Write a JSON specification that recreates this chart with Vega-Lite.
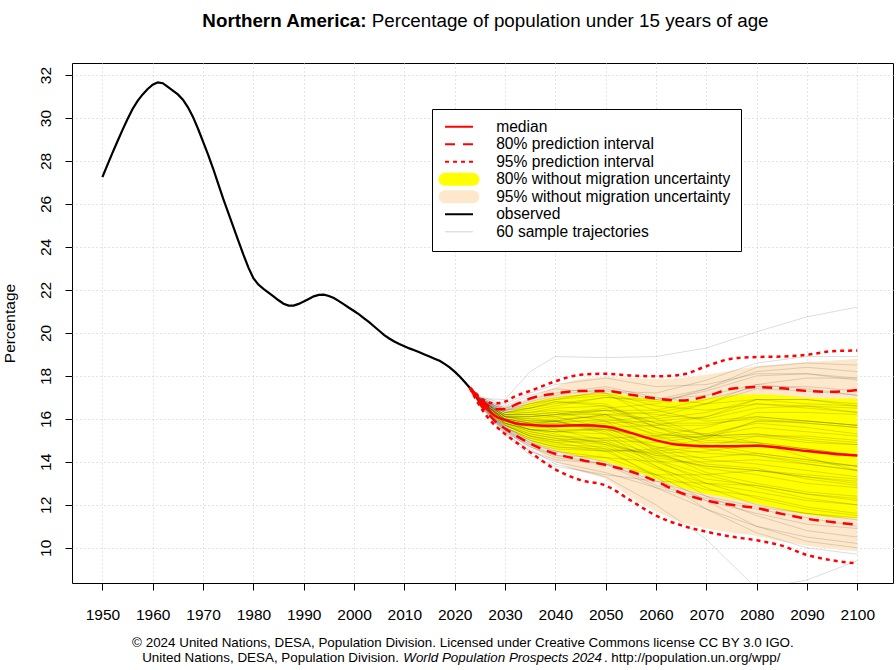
{
  "$schema": "https://vega.github.io/schema/vega-lite/v6.json",
  "width": 821,
  "height": 520,
  "autosize": {"type": "none"},
  "padding": {"left": 72, "top": 63, "right": 3, "bottom": 87},
  "background": "white",
  "config": {
    "view": {"stroke": "black", "strokeWidth": 1},
    "font": "Liberation Sans",
    "axis": {
      "labelFont": "Liberation Sans",
      "labelFontSize": 15.5,
      "labelColor": "black",
      "tickColor": "black",
      "tickSize": 7,
      "tickWidth": 1,
      "domain": false,
      "grid": true,
      "gridColor": "#c8c8c8",
      "gridDash": [1, 3],
      "gridWidth": 1,
      "labelOverlap": false,
      "labelFlush": false,
      "titleFont": "Liberation Sans",
      "titleFontSize": 15.5,
      "titleFontWeight": "normal",
      "titleColor": "black"
    },
    "axisX": {"labelBaseline": "alphabetic", "labelPadding": 29},
    "axisY": {
      "labelAngle": 270,
      "labelAlign": "center",
      "labelBaseline": "alphabetic",
      "labelPadding": 15,
      "titleAngle": 270,
      "titleX": -58,
      "titleY": 260,
      "titleAlign": "center",
      "titleBaseline": "alphabetic"
    }
  },
  "datasets": {
    "obs": [
      {"year": 1950, "pct": 27.25}, {"year": 1951, "pct": 27.82}, {"year": 1952, "pct": 28.38}, {"year": 1953, "pct": 28.92},
      {"year": 1954, "pct": 29.45}, {"year": 1955, "pct": 29.95}, {"year": 1956, "pct": 30.42}, {"year": 1957, "pct": 30.8},
      {"year": 1958, "pct": 31.1}, {"year": 1959, "pct": 31.35}, {"year": 1960, "pct": 31.55}, {"year": 1961, "pct": 31.66},
      {"year": 1962, "pct": 31.62}, {"year": 1963, "pct": 31.45}, {"year": 1964, "pct": 31.28}, {"year": 1965, "pct": 31.1},
      {"year": 1966, "pct": 30.85}, {"year": 1967, "pct": 30.5}, {"year": 1968, "pct": 30.05}, {"year": 1969, "pct": 29.5},
      {"year": 1970, "pct": 28.9}, {"year": 1971, "pct": 28.3}, {"year": 1972, "pct": 27.65}, {"year": 1973, "pct": 26.95},
      {"year": 1974, "pct": 26.25}, {"year": 1975, "pct": 25.6}, {"year": 1976, "pct": 24.95}, {"year": 1977, "pct": 24.3},
      {"year": 1978, "pct": 23.65}, {"year": 1979, "pct": 23.05}, {"year": 1980, "pct": 22.55}, {"year": 1981, "pct": 22.25},
      {"year": 1982, "pct": 22.05}, {"year": 1983, "pct": 21.88}, {"year": 1984, "pct": 21.7}, {"year": 1985, "pct": 21.52},
      {"year": 1986, "pct": 21.36}, {"year": 1987, "pct": 21.27}, {"year": 1988, "pct": 21.27}, {"year": 1989, "pct": 21.35},
      {"year": 1990, "pct": 21.46}, {"year": 1991, "pct": 21.58}, {"year": 1992, "pct": 21.7}, {"year": 1993, "pct": 21.77},
      {"year": 1994, "pct": 21.78}, {"year": 1995, "pct": 21.72}, {"year": 1996, "pct": 21.62}, {"year": 1997, "pct": 21.48},
      {"year": 1998, "pct": 21.33}, {"year": 1999, "pct": 21.17}, {"year": 2000, "pct": 21.02}, {"year": 2001, "pct": 20.86},
      {"year": 2002, "pct": 20.68}, {"year": 2003, "pct": 20.5}, {"year": 2004, "pct": 20.3}, {"year": 2005, "pct": 20.1},
      {"year": 2006, "pct": 19.9}, {"year": 2007, "pct": 19.74}, {"year": 2008, "pct": 19.6}, {"year": 2009, "pct": 19.48},
      {"year": 2010, "pct": 19.38}, {"year": 2011, "pct": 19.28}, {"year": 2012, "pct": 19.19}, {"year": 2013, "pct": 19.1},
      {"year": 2014, "pct": 19.0}, {"year": 2015, "pct": 18.9}, {"year": 2016, "pct": 18.8}, {"year": 2017, "pct": 18.7},
      {"year": 2018, "pct": 18.56}, {"year": 2019, "pct": 18.4}, {"year": 2020, "pct": 18.2}, {"year": 2021, "pct": 17.97},
      {"year": 2022, "pct": 17.72}, {"year": 2023, "pct": 17.45}
    ],
    "proj": [
      {"year": 2023, "median": 17.45, "hi80": 17.45, "lo80": 17.45, "hi95": 17.45, "lo95": 17.45, "nhi80": 17.45, "nlo80": 17.45, "nhi95": 17.45, "nlo95": 17.45},
      {"year": 2024, "median": 17.15, "hi80": 17.2, "lo80": 17.05, "hi95": 17.25, "lo95": 17.0, "nhi80": 17.15, "nlo80": 17.1, "nhi95": 17.2, "nlo95": 17.05},
      {"year": 2025, "median": 16.85, "hi80": 16.95, "lo80": 16.7, "hi95": 17.0, "lo95": 16.6, "nhi80": 16.9, "nlo80": 16.75, "nhi95": 17.0, "nlo95": 16.65},
      {"year": 2026, "median": 16.6, "hi80": 16.75, "lo80": 16.4, "hi95": 16.85, "lo95": 16.25, "nhi80": 16.7, "nlo80": 16.5, "nhi95": 16.85, "nlo95": 16.35},
      {"year": 2027, "median": 16.35, "hi80": 16.55, "lo80": 16.15, "hi95": 16.75, "lo95": 15.95, "nhi80": 16.5, "nlo80": 16.25, "nhi95": 16.7, "nlo95": 16.1},
      {"year": 2028, "median": 16.15, "hi80": 16.45, "lo80": 15.9, "hi95": 16.72, "lo95": 15.7, "nhi80": 16.4, "nlo80": 16.05, "nhi95": 16.65, "nlo95": 15.85},
      {"year": 2030, "median": 15.95, "hi80": 16.45, "lo80": 15.55, "hi95": 16.8, "lo95": 15.3, "nhi80": 16.3, "nlo80": 15.7, "nhi95": 16.6, "nlo95": 15.45},
      {"year": 2032, "median": 15.8, "hi80": 16.65, "lo80": 15.25, "hi95": 17.05, "lo95": 14.95, "nhi80": 16.45, "nlo80": 15.4, "nhi95": 16.75, "nlo95": 15.15},
      {"year": 2035, "median": 15.72, "hi80": 16.95, "lo80": 14.85, "hi95": 17.3, "lo95": 14.45, "nhi80": 16.75, "nlo80": 15.0, "nhi95": 17.0, "nlo95": 14.7},
      {"year": 2040, "median": 15.68, "hi80": 17.18, "lo80": 14.38, "hi95": 17.75, "lo95": 13.65, "nhi80": 17.0, "nlo80": 14.55, "nhi95": 17.5, "nlo95": 14.0},
      {"year": 2045, "median": 15.7, "hi80": 17.3, "lo80": 14.1, "hi95": 18.05, "lo95": 13.15, "nhi80": 17.15, "nlo80": 14.25, "nhi95": 17.85, "nlo95": 13.55},
      {"year": 2050, "median": 15.65, "hi80": 17.3, "lo80": 13.85, "hi95": 18.1, "lo95": 12.9, "nhi80": 17.2, "nlo80": 14.0, "nhi95": 17.95, "nlo95": 13.2},
      {"year": 2055, "median": 15.35, "hi80": 17.12, "lo80": 13.55, "hi95": 18.02, "lo95": 12.2, "nhi80": 17.05, "nlo80": 13.65, "nhi95": 17.9, "nlo95": 12.35},
      {"year": 2060, "median": 15.0, "hi80": 16.95, "lo80": 13.1, "hi95": 17.98, "lo95": 11.5, "nhi80": 16.9, "nlo80": 13.2, "nhi95": 17.85, "nlo95": 11.7},
      {"year": 2065, "median": 14.78, "hi80": 16.85, "lo80": 12.55, "hi95": 18.05, "lo95": 11.05, "nhi80": 16.8, "nlo80": 12.8, "nhi95": 17.9, "nlo95": 11.2},
      {"year": 2070, "median": 14.73, "hi80": 17.05, "lo80": 12.2, "hi95": 18.45, "lo95": 10.75, "nhi80": 16.95, "nlo80": 12.5, "nhi95": 18.05, "nlo95": 10.9},
      {"year": 2075, "median": 14.73, "hi80": 17.4, "lo80": 12.0, "hi95": 18.8, "lo95": 10.52, "nhi80": 17.1, "nlo80": 12.3, "nhi95": 18.25, "nlo95": 10.7},
      {"year": 2080, "median": 14.75, "hi80": 17.48, "lo80": 11.85, "hi95": 18.88, "lo95": 10.35, "nhi80": 17.15, "nlo80": 12.05, "nhi95": 18.45, "nlo95": 10.55},
      {"year": 2085, "median": 14.65, "hi80": 17.42, "lo80": 11.58, "hi95": 18.9, "lo95": 10.1, "nhi80": 17.1, "nlo80": 11.8, "nhi95": 18.55, "nlo95": 10.3},
      {"year": 2090, "median": 14.5, "hi80": 17.3, "lo80": 11.35, "hi95": 18.98, "lo95": 9.67, "nhi80": 17.0, "nlo80": 11.55, "nhi95": 18.65, "nlo95": 10.1},
      {"year": 2095, "median": 14.38, "hi80": 17.26, "lo80": 11.2, "hi95": 19.15, "lo95": 9.42, "nhi80": 16.95, "nlo80": 11.42, "nhi95": 18.72, "nlo95": 9.95},
      {"year": 2100, "median": 14.3, "hi80": 17.35, "lo80": 11.08, "hi95": 19.18, "lo95": 9.27, "nhi80": 16.95, "nlo80": 11.38, "nhi95": 18.8, "nlo95": 9.85}
    ],
    "samples": [
      {"id": "t1", "2023": 17.45, "2025": 16.9, "2030": 16.1, "2035": 16.0, "2040": 16.1, "2050": 16.4, "2060": 16.2, "2070": 16.0, "2080": 16.5, "2090": 16.6, "2100": 16.3},
      {"id": "t2", "2023": 17.45, "2025": 16.8, "2030": 15.7, "2035": 15.3, "2040": 15.1, "2050": 14.9, "2060": 14.2, "2070": 13.8, "2080": 13.6, "2090": 13.3, "2100": 13.1},
      {"id": "t3", "2023": 17.45, "2025": 16.9, "2030": 16.3, "2035": 16.5, "2040": 16.8, "2050": 16.6, "2060": 15.6, "2070": 15.0, "2080": 14.9, "2090": 14.6, "2100": 14.3},
      {"id": "t4", "2023": 17.45, "2025": 16.7, "2030": 15.5, "2035": 14.9, "2040": 14.5, "2050": 14.0, "2060": 12.9, "2070": 12.3, "2080": 11.8, "2090": 11.4, "2100": 11.0},
      {"id": "t5", "2023": 17.45, "2025": 16.85, "2030": 15.9, "2035": 15.7, "2040": 15.9, "2050": 16.2, "2060": 16.0, "2070": 16.3, "2080": 16.9, "2090": 16.9, "2100": 16.6},
      {"id": "t6", "2023": 17.45, "2025": 16.9, "2030": 16.2, "2035": 16.2, "2040": 16.1, "2050": 15.6, "2060": 14.6, "2070": 13.9, "2080": 13.7, "2090": 13.2, "2100": 12.9},
      {"id": "t7", "2023": 17.45, "2025": 16.8, "2030": 15.8, "2035": 15.5, "2040": 15.4, "2050": 15.5, "2060": 15.2, "2070": 15.3, "2080": 15.8, "2090": 15.6, "2100": 15.3},
      {"id": "t8", "2023": 17.45, "2025": 17.0, "2030": 16.5, "2035": 16.8, "2040": 17.1, "2050": 17.4, "2060": 16.9, "2070": 17.1, "2080": 17.6, "2090": 17.4, "2100": 17.1},
      {"id": "t9", "2023": 17.45, "2025": 16.7, "2030": 15.4, "2035": 14.7, "2040": 14.2, "2050": 13.9, "2060": 13.1, "2070": 12.4, "2080": 11.9, "2090": 11.6, "2100": 11.4},
      {"id": "t10", "2023": 17.45, "2025": 16.85, "2030": 16.0, "2035": 15.8, "2040": 15.5, "2050": 15.0, "2060": 14.1, "2070": 13.4, "2080": 12.8, "2090": 12.3, "2100": 12.0},
      {"id": "t11", "2023": 17.45, "2025": 16.75, "2030": 15.6, "2035": 15.1, "2040": 14.9, "2050": 15.0, "2060": 14.9, "2070": 15.2, "2080": 15.9, "2090": 15.8, "2100": 15.6},
      {"id": "t12", "2023": 17.45, "2025": 16.95, "2030": 16.3, "2035": 16.4, "2040": 16.6, "2050": 17.0, "2060": 16.8, "2070": 17.3, "2080": 18.0, "2090": 18.1, "2100": 17.9},
      {"id": "t13", "2023": 17.45, "2025": 16.85, "2030": 15.9, "2035": 15.5, "2040": 15.4, "2050": 15.3, "2060": 14.7, "2070": 14.4, "2080": 14.3, "2090": 14.0, "2100": 13.8},
      {"id": "t14", "2023": 17.45, "2025": 16.9, "2030": 16.1, "2035": 16.0, "2040": 15.9, "2050": 15.4, "2060": 14.1, "2070": 13.0, "2080": 12.3, "2090": 11.8, "2100": 11.5},
      {"id": "t15", "2023": 17.45, "2025": 16.65, "2030": 15.35, "2035": 14.5, "2040": 14.1, "2050": 13.9, "2060": 13.4, "2070": 13.4, "2080": 13.6, "2090": 13.4, "2100": 13.2},
      {"id": "t16", "2023": 17.45, "2025": 16.85, "2030": 16.0, "2035": 15.9, "2040": 15.9, "2050": 15.9, "2060": 15.3, "2070": 15.1, "2080": 15.2, "2090": 14.9, "2100": 14.8},
      {"id": "t17", "2023": 17.45, "2025": 16.95, "2030": 16.4, "2035": 16.7, "2040": 16.9, "2050": 17.3, "2060": 17.2, "2070": 17.8, "2080": 18.6, "2090": 18.9, "2100": 18.9},
      {"id": "t18", "2023": 17.45, "2025": 16.75, "2030": 15.7, "2035": 15.2, "2040": 14.9, "2050": 14.5, "2060": 13.4, "2070": 12.2, "2080": 11.0, "2090": 10.3, "2100": 10.0},
      {"id": "t19", "2023": 17.45, "2025": 16.9, "2030": 16.2, "2035": 16.2, "2040": 16.3, "2050": 16.4, "2060": 15.8, "2070": 15.8, "2080": 16.0, "2090": 15.8, "2100": 15.6},
      {"id": "t20", "2023": 17.45, "2025": 16.75, "2030": 15.6, "2035": 15.0, "2040": 14.7, "2050": 14.6, "2060": 14.4, "2070": 14.5, "2080": 14.8, "2090": 14.6, "2100": 14.3},
      {"id": "t21", "2023": 17.45, "2025": 16.85, "2030": 16.0, "2035": 15.8, "2040": 15.9, "2050": 16.2, "2060": 16.3, "2070": 16.7, "2080": 17.4, "2090": 17.3, "2100": 17.1},
      {"id": "t22", "2023": 17.45, "2025": 16.8, "2030": 15.8, "2035": 15.4, "2040": 15.2, "2050": 14.9, "2060": 14.0, "2070": 13.2, "2080": 12.9, "2090": 12.5, "2100": 12.2},
      {"id": "t23", "2023": 17.45, "2025": 17.0, "2030": 16.6, "2035": 17.1, "2040": 17.4, "2050": 17.2, "2060": 16.0, "2070": 15.2, "2080": 15.3, "2090": 15.1, "2100": 14.9},
      {"id": "t24", "2023": 17.45, "2025": 16.6, "2030": 15.25, "2035": 14.3, "2040": 13.8, "2050": 13.4, "2060": 13.1, "2070": 13.0, "2080": 12.9, "2090": 12.5, "2100": 12.3},
      {"id": "t25", "2023": 17.45, "2025": 16.9, "2030": 16.2, "2035": 16.3, "2040": 16.4, "2050": 16.2, "2060": 15.2, "2070": 14.6, "2080": 14.3, "2090": 13.9, "2100": 13.6},
      {"id": "t26", "2023": 17.45, "2025": 16.85, "2030": 15.9, "2035": 15.6, "2040": 15.6, "2050": 15.8, "2060": 15.9, "2070": 16.1, "2080": 16.7, "2090": 16.6, "2100": 16.5},
      {"id": "t27", "2023": 17.45, "2025": 16.9, "2030": 16.1, "2035": 15.9, "2040": 15.9, "2050": 15.3, "2060": 13.8, "2070": 12.4, "2080": 11.5, "2090": 10.8, "2100": 10.5},
      {"id": "t28", "2023": 17.45, "2025": 16.7, "2030": 15.5, "2035": 14.8, "2040": 14.5, "2050": 14.2, "2060": 13.4, "2070": 12.7, "2080": 12.4, "2090": 11.9, "2100": 11.6},
      {"id": "t29", "2023": 17.45, "2025": 16.95, "2030": 16.4, "2035": 16.6, "2040": 16.9, "2050": 17.1, "2060": 16.4, "2070": 15.9, "2080": 16.1, "2090": 15.9, "2100": 15.7},
      {"id": "t30", "2023": 17.45, "2025": 16.75, "2030": 15.7, "2035": 15.2, "2040": 15.0, "2050": 15.1, "2060": 15.2, "2070": 15.6, "2080": 16.3, "2090": 16.3, "2100": 16.2},
      {"id": "t31", "2023": 17.45, "2025": 16.9, "2030": 16.1, "2035": 16.1, "2040": 16.2, "2050": 16.2, "2060": 15.4, "2070": 14.9, "2080": 14.9, "2090": 14.6, "2100": 14.3},
      {"id": "t32", "2023": 17.45, "2025": 16.8, "2030": 15.8, "2035": 15.5, "2040": 15.3, "2050": 14.8, "2060": 13.8, "2070": 12.8, "2080": 12.0, "2090": 11.6, "2100": 11.3},
      {"id": "t33", "2023": 17.45, "2025": 16.95, "2030": 16.3, "2035": 16.5, "2040": 16.7, "2050": 17.0, "2060": 16.9, "2070": 17.4, "2080": 18.2, "2090": 18.4, "2100": 18.2},
      {"id": "t34", "2023": 17.45, "2025": 16.7, "2030": 15.4, "2035": 14.7, "2040": 14.3, "2050": 14.2, "2060": 14.0, "2070": 14.0, "2080": 14.1, "2090": 13.9, "2100": 13.6},
      {"id": "t35", "2023": 17.45, "2025": 16.85, "2030": 15.95, "2035": 15.7, "2040": 15.7, "2050": 15.6, "2060": 15.0, "2070": 14.7, "2080": 14.8, "2090": 14.5, "2100": 14.3},
      {"id": "t36", "2023": 17.45, "2025": 16.9, "2030": 16.1, "2035": 16.1, "2040": 16.2, "2050": 16.4, "2060": 16.4, "2070": 16.9, "2080": 17.5, "2090": 17.5, "2100": 17.3},
      {"id": "t37", "2023": 17.45, "2025": 16.8, "2030": 15.75, "2035": 15.3, "2040": 15.1, "2050": 14.6, "2060": 13.3, "2070": 11.8, "2080": 10.7, "2090": 10.0, "2100": 9.7},
      {"id": "t38", "2023": 17.45, "2025": 16.85, "2030": 16.0, "2035": 15.8, "2040": 15.9, "2050": 15.5, "2060": 14.4, "2070": 13.7, "2080": 13.4, "2090": 13.0, "2100": 12.8},
      {"id": "t39", "2023": 17.45, "2025": 17.0, "2030": 16.5, "2035": 16.9, "2040": 17.2, "2050": 17.5, "2060": 17.0, "2070": 16.7, "2080": 16.9, "2090": 16.7, "2100": 16.6},
      {"id": "t40", "2023": 17.45, "2025": 16.75, "2030": 15.6, "2035": 15.0, "2040": 14.7, "2050": 14.5, "2060": 14.5, "2070": 14.7, "2080": 15.2, "2090": 15.2, "2100": 15.0},
      {"id": "t41", "2023": 17.45, "2025": 16.9, "2030": 16.2, "2035": 16.2, "2040": 16.3, "2050": 15.9, "2060": 14.5, "2070": 13.5, "2080": 13.0, "2090": 12.6, "2100": 12.4},
      {"id": "t42", "2023": 17.45, "2025": 16.85, "2030": 15.9, "2035": 15.5, "2040": 15.5, "2050": 15.5, "2060": 15.1, "2070": 15.2, "2080": 15.6, "2090": 15.4, "2100": 15.2},
      {"id": "t43", "2023": 17.45, "2025": 16.95, "2030": 16.4, "2035": 16.5, "2040": 16.8, "2050": 16.7, "2060": 15.6, "2070": 14.8, "2080": 14.4, "2090": 14.1, "2100": 13.8},
      {"id": "t44", "2023": 17.45, "2025": 16.65, "2030": 15.3, "2035": 14.5, "2040": 14.0, "2050": 13.5, "2060": 12.8, "2070": 12.2, "2080": 11.6, "2090": 11.1, "2100": 10.9},
      {"id": "t45", "2023": 17.45, "2025": 16.85, "2030": 16.1, "2035": 15.9, "2040": 16.0, "2050": 16.1, "2060": 15.7, "2070": 15.7, "2080": 16.1, "2090": 15.9, "2100": 15.7},
      {"id": "t46", "2023": 17.45, "2025": 16.8, "2030": 15.7, "2035": 15.2, "2040": 15.0, "2050": 14.8, "2060": 14.3, "2070": 14.2, "2080": 14.4, "2090": 14.1, "2100": 13.8},
      {"id": "t47", "2023": 17.45, "2025": 17.05, "2030": 16.7, "2035": 17.2, "2040": 17.6, "2050": 17.9, "2060": 17.5, "2070": 17.6, "2080": 18.1, "2090": 18.1, "2100": 17.8},
      {"id": "t48", "2023": 17.45, "2025": 16.7, "2030": 15.55, "2035": 14.9, "2040": 14.6, "2050": 14.5, "2060": 14.6, "2070": 15.1, "2080": 15.9, "2090": 15.9, "2100": 15.7},
      {"id": "t49", "2023": 17.45, "2025": 16.85, "2030": 16.0, "2035": 15.8, "2040": 15.8, "2050": 15.6, "2060": 14.7, "2070": 14.1, "2080": 13.9, "2090": 13.6, "2100": 13.3},
      {"id": "t50", "2023": 17.45, "2025": 16.8, "2030": 15.8, "2035": 15.5, "2040": 15.4, "2050": 15.6, "2060": 15.7, "2070": 16.1, "2080": 16.9, "2090": 16.9, "2100": 16.7},
      {"id": "t51", "2023": 17.45, "2025": 16.9, "2030": 16.3, "2035": 16.3, "2040": 16.5, "2050": 16.6, "2060": 15.8, "2070": 15.2, "2080": 15.3, "2090": 15.0, "2100": 14.8},
      {"id": "t52", "2023": 17.45, "2025": 16.7, "2030": 15.45, "2035": 14.8, "2040": 14.3, "2050": 13.9, "2060": 12.8, "2070": 11.8, "2080": 11.0, "2090": 10.5, "2100": 10.2},
      {"id": "t53", "2023": 17.45, "2025": 16.9, "2030": 16.15, "2035": 16.1, "2040": 16.2, "2050": 16.5, "2060": 16.7, "2070": 17.4, "2080": 18.4, "2090": 18.6, "2100": 18.5},
      {"id": "t54", "2023": 17.45, "2025": 16.8, "2030": 15.8, "2035": 15.4, "2040": 15.2, "2050": 15.1, "2060": 14.3, "2070": 13.8, "2080": 13.6, "2090": 13.3, "2100": 13.0},
      {"id": "t55", "2023": 17.45, "2025": 16.95, "2030": 16.45, "2035": 16.7, "2040": 17.0, "2050": 17.2, "2060": 16.6, "2070": 16.4, "2080": 16.7, "2090": 16.5, "2100": 16.3},
      {"id": "t56", "2023": 17.45, "2025": 16.75, "2030": 15.6, "2035": 15.1, "2040": 14.8, "2050": 14.7, "2060": 13.7, "2070": 13.0, "2080": 12.6, "2090": 12.2, "2100": 12.0},
      {"id": "t57", "2023": 17.45, "2025": 16.85, "2030": 15.95, "2035": 15.7, "2040": 15.8, "2050": 16.0, "2060": 15.6, "2070": 15.3, "2080": 14.9, "2090": 14.2, "2100": 13.6},
      {"id": "t58", "2023": 17.45, "2025": 16.85, "2030": 15.9, "2035": 15.7, "2040": 15.6, "2050": 15.9, "2060": 16.1, "2070": 16.7, "2080": 17.6, "2090": 17.9, "2100": 17.9},
      {"id": "t59", "2023": 17.45, "2025": 16.95, "2030": 16.9, "2035": 18.2, "2040": 18.9, "2050": 18.85, "2060": 18.9, "2070": 19.3, "2080": 20.05, "2090": 20.75, "2100": 21.2},
      {"id": "t60", "2023": 17.45, "2025": 16.75, "2030": 15.5, "2035": 14.6, "2040": 13.9, "2050": 13.3, "2060": 12.0, "2070": 10.4, "2080": 8.1, "2090": 8.5, "2100": 9.4}
    ]
  },
  "layer": [
    {
      "data": {"name": "proj"},
      "mark": {"type": "area", "color": "#FDE8CC", "interpolate": "monotone"},
      "encoding": {
        "x": {"field": "year", "type": "quantitative", "title": null,
              "scale": {"domain": [1943.96, 2107.1], "nice": false, "zero": false},
              "axis": {"values": [1950, 1960, 1970, 1980, 1990, 2000, 2010, 2020, 2030, 2040, 2050, 2060, 2070, 2080, 2090, 2100], "format": "d"}},
        "y": {"field": "nlo95", "type": "quantitative", "title": "Percentage",
              "scale": {"domain": [8.363, 32.56], "nice": false, "zero": false},
              "axis": {"values": [10, 12, 14, 16, 18, 20, 22, 24, 26, 28, 30, 32]}},
        "y2": {"field": "nhi95"}
      }
    },
    {
      "data": {"name": "proj"},
      "mark": {"type": "area", "color": "#FFFF00", "interpolate": "monotone"},
      "encoding": {
        "x": {"field": "year", "type": "quantitative", "title": null},
        "y": {"field": "nlo80", "type": "quantitative", "title": "Percentage"},
        "y2": {"field": "nhi80"}
      }
    },
    {
      "data": {"name": "samples"},
      "transform": [
        {"fold": ["2023", "2025", "2030", "2035", "2040", "2050", "2060", "2070", "2080", "2090", "2100"], "as": ["year", "pct"]}
      ],
      "mark": {"type": "line", "color": "#000000", "strokeWidth": 0.9, "opacity": 0.15, "clip": true},
      "encoding": {
        "x": {"field": "year", "type": "quantitative", "title": null},
        "y": {"field": "pct", "type": "quantitative", "title": "Percentage"},
        "detail": {"field": "id", "type": "nominal"}
      }
    },
    {
      "data": {"name": "obs"},
      "mark": {"type": "line", "strokeWidth": 2.2},
      "encoding": {
        "x": {"field": "year", "type": "quantitative", "title": null},
        "y": {"field": "pct", "type": "quantitative", "title": "Percentage"},
        "color": {
          "datum": "observed",
          "type": "nominal",
          "scale": {
            "domain": ["median", "80% prediction interval", "95% prediction interval", "80% without migration uncertainty", "95% without migration uncertainty", "observed", "60 sample trajectories"],
            "range": ["#FF0000", "#FF0000", "#FF0000", "#FFFF00", "#FDE8CC", "#000000", "#D3D3D3"]
          },
          "legend": {
            "title": null,
            "orient": "none",
            "legendX": 360,
            "legendY": 46,
            "direction": "vertical",
            "fillColor": "white",
            "strokeColor": "black",
            "padding": 10,
            "cornerRadius": 0,
            "symbolType": "M-2.33,0H2.33",
            "symbolSize": 144,
            "symbolStrokeWidth": 2,
            "symbolOffset": 9.2,
            "labelOffset": 29.4,
            "rowPadding": 0.5,
            "labelFont": "Liberation Sans",
            "labelFontSize": 15.6,
            "labelColor": "black",
            "labelLimit": 0,
            "encode": {
              "symbols": {
                "update": {
                  "shape": {"signal": "indexof(['80% without migration uncertainty', '95% without migration uncertainty'], datum.value) >= 0 ? 'M-2.33,-1.08L2.33,-1.08L2.87,-0.935L3.265,-0.54L3.41,0L3.265,0.54L2.87,0.935L2.33,1.08L-2.33,1.08L-2.87,0.935L-3.265,0.54L-3.41,0L-3.265,-0.54L-2.87,-0.935Z' : 'M-2.33,0H2.33'"},
                  "fill": {"signal": "datum.value === '80% without migration uncertainty' ? '#FFFF00' : datum.value === '95% without migration uncertainty' ? '#FDE8CC' : 'transparent'"},
                  "fillOpacity": {"value": 1},
                  "strokeDash": {"signal": "datum.value === '80% prediction interval' ? [10, 8] : datum.value === '95% prediction interval' ? [4, 4] : [1, 0]"},
                  "strokeWidth": {"signal": "indexof(['80% without migration uncertainty', '95% without migration uncertainty'], datum.value) >= 0 ? 0 : datum.value === '60 sample trajectories' ? 1 : 2"},
                  "opacity": {"value": 1}
                }
              }
            }
          }
        }
      }
    },
    {
      "data": {"name": "proj"},
      "mark": {"type": "line", "strokeWidth": 2.5, "strokeDash": [4, 4], "interpolate": "monotone"},
      "encoding": {
        "x": {"field": "year", "type": "quantitative", "title": null},
        "y": {"field": "hi95", "type": "quantitative", "title": "Percentage"},
        "color": {"datum": "95% prediction interval", "type": "nominal"}
      }
    },
    {
      "data": {"name": "proj"},
      "mark": {"type": "line", "strokeWidth": 2.5, "strokeDash": [4, 4], "interpolate": "monotone"},
      "encoding": {
        "x": {"field": "year", "type": "quantitative", "title": null},
        "y": {"field": "lo95", "type": "quantitative", "title": "Percentage"},
        "color": {"datum": "95% prediction interval", "type": "nominal"}
      }
    },
    {
      "data": {"name": "proj"},
      "mark": {"type": "line", "strokeWidth": 2.5, "strokeDash": [10, 7], "interpolate": "monotone"},
      "encoding": {
        "x": {"field": "year", "type": "quantitative", "title": null},
        "y": {"field": "hi80", "type": "quantitative", "title": "Percentage"},
        "color": {"datum": "80% prediction interval", "type": "nominal"}
      }
    },
    {
      "data": {"name": "proj"},
      "mark": {"type": "line", "strokeWidth": 2.5, "strokeDash": [10, 7], "interpolate": "monotone"},
      "encoding": {
        "x": {"field": "year", "type": "quantitative", "title": null},
        "y": {"field": "lo80", "type": "quantitative", "title": "Percentage"},
        "color": {"datum": "80% prediction interval", "type": "nominal"}
      }
    },
    {
      "data": {"name": "proj"},
      "mark": {"type": "line", "strokeWidth": 2.5, "interpolate": "monotone"},
      "encoding": {
        "x": {"field": "year", "type": "quantitative", "title": null},
        "y": {"field": "median", "type": "quantitative", "title": "Percentage"},
        "color": {"datum": "median", "type": "nominal"}
      }
    },
    {
      "data": {"values": [{"txt": "Northern America:"}]},
      "mark": {"type": "text", "align": "right", "baseline": "alphabetic", "font": "Liberation Sans", "fontSize": 18.8, "fontWeight": "bold", "fill": "#000000"},
      "encoding": {
        "x": {"datum": 2002.49, "type": "quantitative"},
        "y": {"datum": 34.235, "type": "quantitative"},
        "text": {"field": "txt", "type": "nominal"}
      }
    },
    {
      "data": {"values": [{"txt": "Percentage of population under 15 years of age"}]},
      "mark": {"type": "text", "align": "left", "baseline": "alphabetic", "font": "Liberation Sans", "fontSize": 18.8, "fill": "#000000"},
      "encoding": {
        "x": {"datum": 2003.52, "type": "quantitative"},
        "y": {"datum": 34.235, "type": "quantitative"},
        "text": {"field": "txt", "type": "nominal"}
      }
    },
    {
      "data": {"values": [{"txt": "© 2024 United Nations, DESA, Population Division. Licensed under Creative Commons license CC BY 3.0 IGO."}]},
      "mark": {"type": "text", "align": "center", "baseline": "alphabetic", "font": "Liberation Sans", "fontSize": 13.4, "fill": "#000000"},
      "encoding": {
        "x": {"datum": 2021.64, "type": "quantitative"},
        "y": {"datum": 5.382, "type": "quantitative"},
        "text": {"field": "txt", "type": "nominal"}
      }
    },
    {
      "data": {"values": [{"txt": "United Nations, DESA, Population Division."}]},
      "mark": {"type": "text", "align": "right", "baseline": "alphabetic", "font": "Liberation Sans", "fontSize": 13.4, "fill": "#000000"},
      "encoding": {
        "x": {"datum": 2008.93, "type": "quantitative"},
        "y": {"datum": 4.698, "type": "quantitative"},
        "text": {"field": "txt", "type": "nominal"}
      }
    },
    {
      "data": {"values": [{"txt": "World Population Prospects 2024"}]},
      "mark": {"type": "text", "align": "left", "baseline": "alphabetic", "font": "Liberation Sans", "fontSize": 13.4, "fontStyle": "italic", "fill": "#000000"},
      "encoding": {
        "x": {"datum": 2009.78, "type": "quantitative"},
        "y": {"datum": 4.698, "type": "quantitative"},
        "text": {"field": "txt", "type": "nominal"}
      }
    },
    {
      "data": {"values": [{"txt": ". http://population.un.org/wpp/"}]},
      "mark": {"type": "text", "align": "left", "baseline": "alphabetic", "font": "Liberation Sans", "fontSize": 13.4, "fill": "#000000"},
      "encoding": {
        "x": {"datum": 2049.66, "type": "quantitative"},
        "y": {"datum": 4.698, "type": "quantitative"},
        "text": {"field": "txt", "type": "nominal"}
      }
    }
  ]
}
